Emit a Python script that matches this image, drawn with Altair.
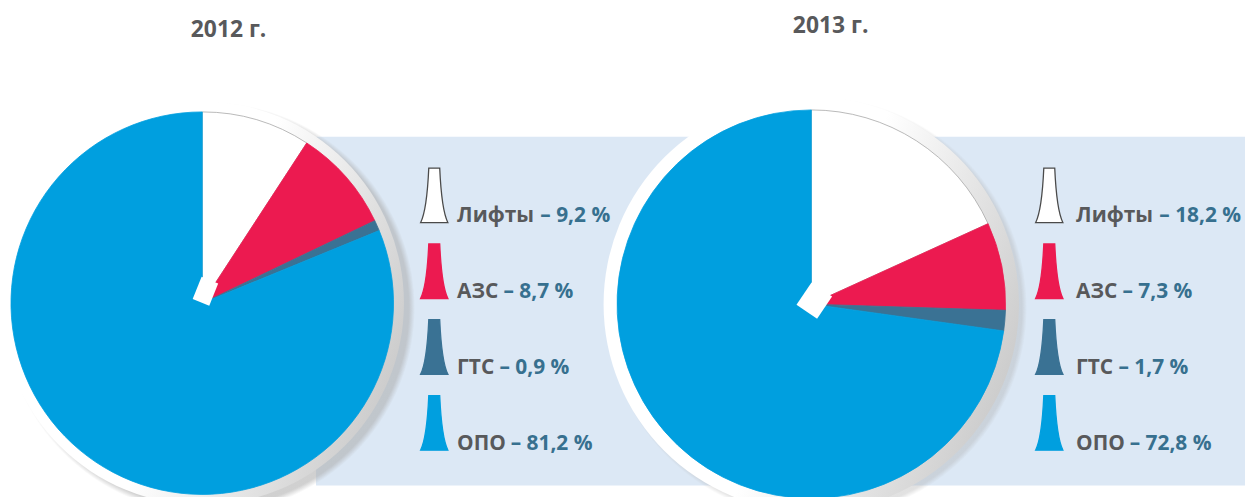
import math
import altair as alt
import pandas as pd

# ---- data ----
categories = ["Лифты", "АЗС", "ГТС", "ОПО"]
values_2012 = [9.2, 8.7, 0.9, 81.2]
values_2013 = [18.2, 7.3, 1.7, 72.8]
years = ["2012 г.", "2013 г."]

# ---- styles ----
WHITE, RED, TEAL, BLUE = "#FFFFFF", "#EC1A50", "#3A7294", "#009FDF"
BG = "#DCE8F5"
GRAY_TXT = "#58595B"
VAL_TXT = "#37708F"
FONT = "Open Sans"
FS = 21

# approximate advance widths (em) of Open Sans Bold, used to place the value after the name
EM = {"Л": 0.72, "и": 0.65, "ф": 0.98, "т": 0.52, "ы": 0.86, "А": 0.70,
      "З": 0.62, "С": 0.64, "Г": 0.55, "Т": 0.58, "О": 0.78, "П": 0.75, " ": 0.26}

def text_w(s):
    return sum(EM.get(ch, 0.6) for ch in s) * FS

fill_scale = alt.Scale(domain=categories, range=[WHITE, RED, TEAL, BLUE])

W, H = 1245, 489

def fmt(v):
    return "– " + f"{v}".replace(".", ",") + " %"

marker_path = ("M-0.2,-1 L0.2,-1 Q0.27,0.55 0.5,1 L-0.5,1 "
               "Q-0.27,0.55 -0.2,-1 Z")

def rect_path(ratio):
    return f"M-{ratio},-1 L{ratio},-1 L{ratio},1 L-{ratio},1 Z"

one = pd.DataFrame({"a": [0]})

row_y = alt.Y("idx:Q", scale=alt.Scale(domain=[0, 3], range=[187, 416]), axis=None)
id_x = alt.X("vx:Q", scale=alt.Scale(domain=[0, W], range=[0, W]), axis=None)

bg = alt.Chart(one).mark_rect(color=BG).encode(
    x=alt.value(310), x2=alt.value(W), y=alt.value(128), y2=alt.value(479)
)

cfg = [
    dict(vals=values_2012, cx=195.5, cy=295.5, r=192.5, ring=203, sh=207, shx=7, shy=5,
         sha=0.55, nx=198.7, ny=283.5, nsize=576, nratio=0.75, nangle=22,
         mx=429, tx=452, ttx=222, tty=28),
    dict(vals=values_2013, cx=808.5, cy=296.5, r=195.5, ring=209, sh=212, shx=5, shy=4,
         sha=0.35, nx=811.5, ny=292.9, nsize=729, nratio=0.926, nangle=34,
         mx=1048, tx=1075, ttx=828, tty=24),
]

ring_grad = alt.LinearGradient(
    gradient="linear",
    stops=[alt.GradientStop(offset=0, color="#FFFFFF"),
           alt.GradientStop(offset=0.5, color="#FFFFFF"),
           alt.GradientStop(offset=1, color="#C9C9C9")],
    x1=0, y1=0.3, x2=1, y2=0.7,
)

def shadow_grad(inner, outer, a):
    f = inner / outer
    col = f"rgba(170,170,170,{a})"
    return alt.RadialGradient(
        gradient="radial",
        stops=[alt.GradientStop(offset=0, color=col),
               alt.GradientStop(offset=f, color=col),
               alt.GradientStop(offset=1, color="rgba(170,170,170,0)")],
        x1=0.5, y1=0.5, x2=0.5, y2=0.5, r1=0, r2=0.5,
    )

layers = [bg]
legends = []

for i, c in enumerate(cfg):
    df = pd.DataFrame({
        "cat": categories,
        "val": c["vals"],
        "idx": list(range(len(categories))),
        "vtxt": [fmt(v) for v in c["vals"]],
    })
    df["vx"] = [c["tx"] + text_w(n + " ") for n in categories]

    shadow = alt.Chart(one).mark_arc(
        radius=c["sh"], theta=0, theta2=2 * math.pi,
        fill=shadow_grad(c["ring"] - 2, c["sh"], c["sha"])
    ).encode(x=alt.value(c["cx"] + c["shx"]), y=alt.value(c["cy"] + c["shy"]))
    ring = alt.Chart(one).mark_arc(
        radius=c["ring"], theta=0, theta2=2 * math.pi, fill=ring_grad
    ).encode(x=alt.value(c["cx"]), y=alt.value(c["cy"]))
    pie = alt.Chart(df).mark_arc(radius=c["r"], strokeWidth=0.8).encode(
        x=alt.value(c["cx"]), y=alt.value(c["cy"]),
        theta=alt.Theta("val:Q", stack=True),
        order=alt.Order("idx:Q"),
        color=alt.Color("cat:N", scale=fill_scale, legend=None),
        stroke=alt.Stroke("cat:N", scale=alt.Scale(domain=categories,
                          range=["#A8A8A8", RED, TEAL, BLUE]), legend=None),
    )
    notch = alt.Chart(one).mark_point(
        shape=rect_path(c["nratio"]), filled=True, color=WHITE, opacity=1,
        size=c["nsize"], angle=c["nangle"]
    ).encode(x=alt.value(c["nx"]), y=alt.value(c["ny"]))
    layers += [shadow, ring, pie, notch]

    markers = alt.Chart(df).mark_point(
        shape=marker_path, filled=True, size=3025, opacity=1, strokeWidth=1.3
    ).encode(
        x=alt.value(c["mx"]), y=row_y,
        color=alt.Color("cat:N", scale=fill_scale, legend=None),
        stroke=alt.Stroke("cat:N", scale=alt.Scale(domain=categories,
                          range=["#4A4A4A", RED, TEAL, BLUE]), legend=None),
    )
    name_txt = alt.Chart(df).mark_text(
        align="left", baseline="alphabetic", dy=27, font=FONT, fontWeight="bold",
        fontSize=FS, color=GRAY_TXT
    ).encode(x=alt.value(c["tx"]), y=row_y, text="cat:N")
    val_txt = alt.Chart(df).mark_text(
        align="left", baseline="alphabetic", dy=27, font=FONT, fontWeight="bold",
        fontSize=FS, color=VAL_TXT
    ).encode(x=id_x, y=row_y, text="vtxt:N")
    title = alt.Chart(pd.DataFrame({"t": [years[i]]})).mark_text(
        align="center", baseline="alphabetic", font=FONT, fontWeight="bold",
        fontSize=23, color=GRAY_TXT
    ).encode(x=alt.value(c["ttx"]), y=alt.value(c["tty"]), text="t:N")
    legends += [markers, name_txt, val_txt, title]

chart = alt.layer(*(layers + legends)).resolve_scale(
    stroke="independent"
).properties(
    width=W, height=H, autosize=alt.AutoSizeParams(type="none"), padding=0
).configure_view(stroke=None)

chart.save("out.html", embed_options={"renderer": "svg", "actions": False})
